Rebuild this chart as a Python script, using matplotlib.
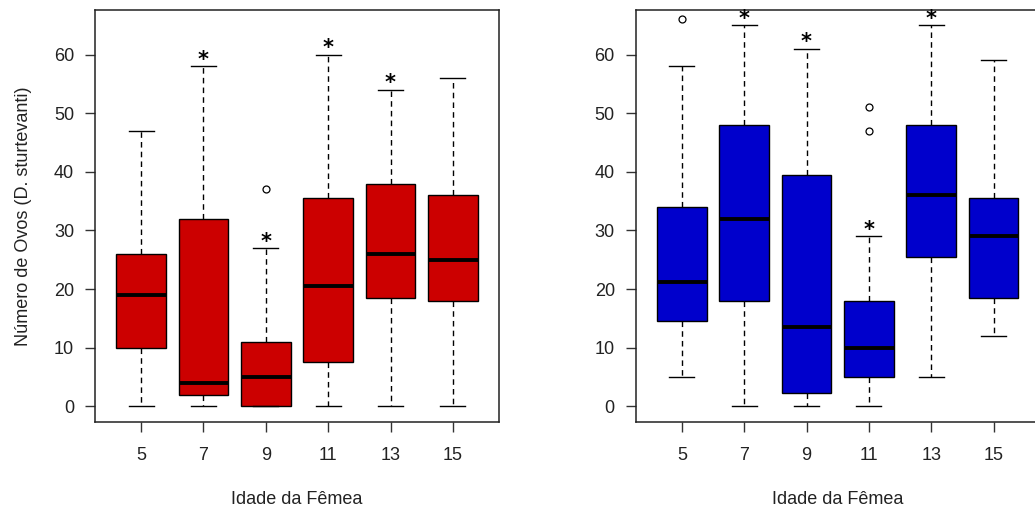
import matplotlib.pyplot as plt

plt.rcParams['font.family'] = ['Liberation Sans', 'DejaVu Sans']

ages = ['5', '7', '9', '11', '13', '15']

# left panel (red)
red_whislo = [0, 0, 0, 0, 0, 0]
red_q1 = [10, 2, 0, 7.5, 18.5, 18]
red_med = [19, 4, 5, 20.5, 26, 25]
red_q3 = [26, 32, 11, 35.5, 38, 36]
red_whishi = [47, 58, 27, 60, 54, 56]
red_fliers = [[], [], [37], [], [], []]
red_stars = [False, True, True, True, True, False]

# right panel (blue)
blue_whislo = [5, 0, 0, 0, 5, 12]
blue_q1 = [14.5, 18, 2.3, 5, 25.5, 18.5]
blue_med = [21.3, 32, 13.6, 10, 36, 29]
blue_q3 = [34, 48, 39.5, 18, 48, 35.5]
blue_whishi = [58, 65, 61, 29, 65, 59]
blue_fliers = [[66], [], [], [51, 47], [], []]
blue_stars = [False, True, True, True, True, False]


def make_stats(whislo, q1, med, q3, whishi, fliers):
    stats = []
    for i in range(len(ages)):
        stats.append({'whislo': whislo[i], 'q1': q1[i], 'med': med[i],
                      'q3': q3[i], 'whishi': whishi[i], 'fliers': fliers[i],
                      'label': ages[i]})
    return stats


def draw_panel(ax, stats, color, stars):
    ax.bxp(stats, positions=range(1, len(ages) + 1), widths=0.8,
           patch_artist=True, showfliers=True,
           boxprops=dict(facecolor=color, edgecolor='black', linewidth=1),
           medianprops=dict(color='black', linewidth=2.8, solid_capstyle='butt'),
           whiskerprops=dict(color='black', linewidth=1, linestyle=(0, (4, 3))),
           capprops=dict(color='black', linewidth=1),
           capwidths=0.4,
           flierprops=dict(marker='o', markerfacecolor='none',
                           markeredgecolor='black', markersize=5,
                           markeredgewidth=0.9))
    # significance stars sit just above the upper whisker
    for i, s in enumerate(stats):
        if stars[i]:
            ax.text(i + 1, s['whishi'] + 1.1, '*', ha='center', va='center',
                    fontsize=15, fontweight='bold', family='DejaVu Sans')
    ax.set_xlim(0.26, 6.74)
    ax.set_ylim(-2.6, 67.6)
    ax.set_yticks([0, 10, 20, 30, 40, 50, 60])
    ax.set_xticklabels(ages)
    ax.tick_params(axis='both', direction='out', length=7, width=1,
                   labelsize=13, labelcolor='#222222', color='#333333')
    ax.tick_params(axis='y', pad=8)
    ax.tick_params(axis='x', pad=11)
    for sp in ax.spines.values():
        sp.set_linewidth(1.1)
        sp.set_color('#222222')
    ax.set_xlabel('Idade da Fêmea', fontsize=13, color='#222222', labelpad=20)


fig = plt.figure(figsize=(10.35, 5.09), dpi=100)
ax1 = fig.add_axes([0.0918, 0.1715, 0.3903, 0.809])
ax2 = fig.add_axes([0.6142, 0.1715, 0.3903, 0.809])

draw_panel(ax1, make_stats(red_whislo, red_q1, red_med, red_q3, red_whishi,
                           red_fliers), '#cc0000', red_stars)
draw_panel(ax2, make_stats(blue_whislo, blue_q1, blue_med, blue_q3, blue_whishi,
                           blue_fliers), '#0000cc', blue_stars)
ax1.set_ylabel('Número de Ovos (D. sturtevanti)', fontsize=13, color='#222222',
               labelpad=16)

fig.savefig('out.png', dpi=100)
